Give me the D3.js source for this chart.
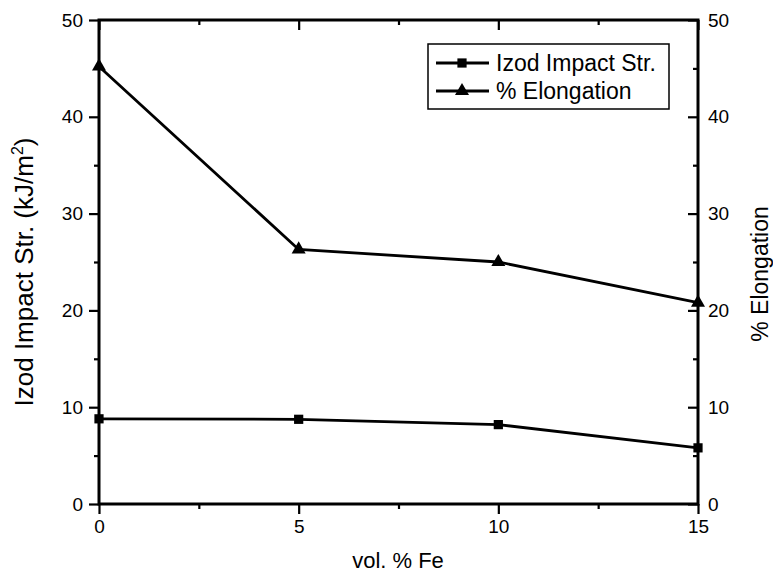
<!DOCTYPE html>
<html>
<head>
<meta charset="utf-8">
<script src="https://cdn.jsdelivr.net/npm/d3@7"></script>
<style>
  body { margin: 0; background: #fff; }
  text { font-family: Arial, "Liberation Sans", sans-serif; fill: #000; }
</style>
</head>
<body>
<svg id="chart" width="773" height="575"></svg>
<script>
const feVol = [0, 5, 10, 15];
const izod = [8.8, 8.75, 8.2, 5.8];
const elong = [45.2, 26.3, 25.0, 20.8];
const xTicks = [0, 5, 10, 15];
const yTicks = [0, 10, 20, 30, 40, 50];

const plotLeft = 99, plotRight = 698, plotTop = 20, plotBottom = 504;
var svg = d3.select("#chart");

const x = d3.scaleLinear().domain([0, 15]).range([plotLeft, plotRight]);
const yL = d3.scaleLinear().domain([0, 50]).range([plotBottom, plotTop]);
const yR = d3.scaleLinear().domain([0, 50]).range([plotBottom, plotTop]);

function styleAxis(g) {
    g.select(".domain").remove();
    g.selectAll("line").attr("stroke", "#000").attr("stroke-width", 2.2);
    g.selectAll("text").style("font-size", "19px").attr("fill", "#000");
}

// bottom
svg.append("g").attr("transform", `translate(0,${plotBottom})`)
    .call(d3.axisBottom(x).tickValues(xTicks).tickSize(10).tickPadding(6))
    .call(styleAxis);
svg.append("g").attr("transform", `translate(0,${plotBottom})`)
    .call(d3.axisBottom(x).tickValues([2.5, 7.5, 12.5]).tickSize(5).tickFormat(""))
    .call(styleAxis);
// top (mirrored, inward)
svg.append("g").attr("transform", `translate(0,${plotTop})`)
    .call(d3.axisBottom(x).tickValues(xTicks).tickSize(10).tickFormat(""))
    .call(styleAxis);
svg.append("g").attr("transform", `translate(0,${plotTop})`)
    .call(d3.axisBottom(x).tickValues([2.5, 7.5, 12.5]).tickSize(5).tickFormat(""))
    .call(styleAxis);
// left
svg.append("g").attr("transform", `translate(${plotLeft},0)`)
    .call(d3.axisLeft(yL).tickValues(yTicks).tickSize(10).tickPadding(6))
    .call(styleAxis);
svg.append("g").attr("transform", `translate(${plotLeft},0)`)
    .call(d3.axisLeft(yL).tickValues([5, 15, 25, 35, 45]).tickSize(5).tickFormat(""))
    .call(styleAxis);
// right (ticks inward, labels outside)
svg.append("g").attr("transform", `translate(${plotRight},0)`)
    .call(d3.axisLeft(yR).tickValues(yTicks).tickSize(10).tickFormat(""))
    .call(styleAxis);
svg.append("g").attr("transform", `translate(${plotRight},0)`)
    .call(d3.axisLeft(yR).tickValues([5, 15, 25, 35, 45]).tickSize(5).tickFormat(""))
    .call(styleAxis);
svg.append("g").selectAll("text").data(yTicks).enter().append("text")
    .attr("x", plotRight + 10).attr("y", d => yR(d)).attr("dy", "0.35em")
    .style("font-size", "19px").text(d => d);

// frame
svg.append("rect").attr("x", plotLeft).attr("y", plotTop)
    .attr("width", plotRight - plotLeft).attr("height", plotBottom - plotTop)
    .attr("fill", "none").attr("stroke", "#000").attr("stroke-width", 3);

// lines
const lineL = d3.line().x((d, i) => x(feVol[i])).y(d => yL(d));
const lineR = d3.line().x((d, i) => x(feVol[i])).y(d => yR(d));
svg.append("path").datum(izod).attr("d", lineL)
    .attr("fill", "none").attr("stroke", "#000").attr("stroke-width", 2.8);
svg.append("path").datum(elong).attr("d", lineR)
    .attr("fill", "none").attr("stroke", "#000").attr("stroke-width", 2.8);

const sq = d3.symbol().type(d3.symbolSquare).size(85);
const tri = d3.symbol().type(d3.symbolTriangle).size(85);
svg.append("g").selectAll("path").data(izod).enter().append("path")
    .attr("d", sq).attr("transform", (d, i) => `translate(${x(feVol[i])},${yL(d)})`);
svg.append("g").selectAll("path").data(elong).enter().append("path")
    .attr("d", tri).attr("transform", (d, i) => `translate(${x(feVol[i])},${yR(d)})`);

// axis titles
svg.append("text").attr("x", 398).attr("y", 568).attr("text-anchor", "middle")
    .style("font-size", "22px").text("vol. % Fe");
const yt = svg.append("text").attr("transform", "translate(33,272) rotate(-90)")
    .attr("text-anchor", "middle").style("font-size", "26px");
yt.append("tspan").text("Izod Impact Str. (kJ/m");
yt.append("tspan").attr("dy", -10).style("font-size", "16px").text("2");
yt.append("tspan").attr("dy", 10).text(")");
svg.append("text").attr("transform", "translate(768,274) rotate(-90)")
    .attr("text-anchor", "middle").style("font-size", "23px").text("% Elongation");

// legend
const legend = svg.append("g");
legend.append("rect").attr("x", 428).attr("y", 44).attr("width", 241).attr("height", 65)
    .attr("fill", "#fff").attr("stroke", "#000").attr("stroke-width", 1.5);
const rows = [{ name: "Izod Impact Str.", sym: sq, cy: 63 }, { name: "% Elongation", sym: tri, cy: 91 }];
rows.forEach(r => {
    legend.append("line").attr("x1", 436).attr("x2", 489).attr("y1", r.cy).attr("y2", r.cy)
        .attr("stroke", "#000").attr("stroke-width", 2.8);
    legend.append("path").attr("d", r.sym).attr("transform", `translate(462,${r.cy})`);
    legend.append("text").attr("x", 496).attr("y", r.cy).attr("dy", "0.35em")
        .style("font-size", "23px").text(r.name);
});
</script>
</body>
</html>
